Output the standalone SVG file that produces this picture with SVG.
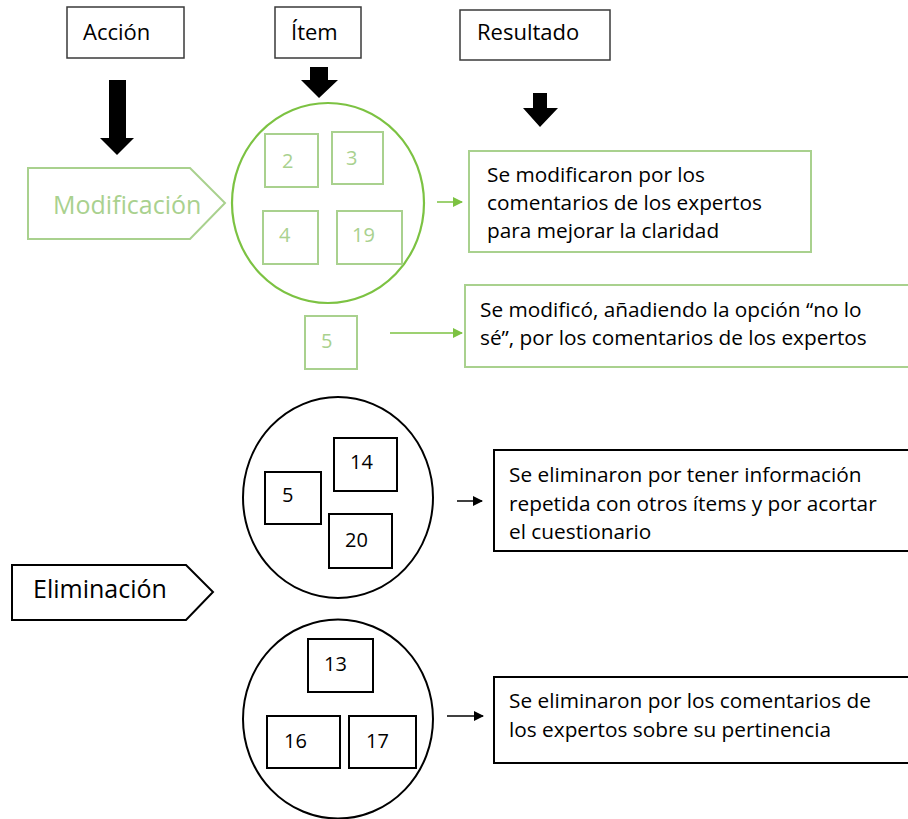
<svg xmlns="http://www.w3.org/2000/svg" width="908" height="819" viewBox="0 0 908 819">
<defs>
<style>
text{font-family:"Open Sans","Liberation Sans",sans-serif;fill:#000}
.hdr{fill:#fff;stroke:#3a3a3a;stroke-width:1.5}
.ht{font-size:22px}
.gbox{fill:#fff;stroke:#a9d18e;stroke-width:2}
.gt{font-size:20px;fill:#a9d18e}
.gcirc{fill:#fff;stroke:#7cc242;stroke-width:2.2}
.bcirc{fill:#fff;stroke:#000;stroke-width:2}
.bbox{fill:#fff;stroke:#000;stroke-width:2}
.bt{font-size:20px}
.rt{font-size:20.8px}
.blk{fill:#000}
.gl{stroke:#7cc242;stroke-width:1.5;fill:none}
.bl{stroke:#000;stroke-width:1.5;fill:none}
</style>
<marker id="ga" viewBox="0 0 10 10" refX="9" refY="5" markerWidth="10" markerHeight="10" markerUnits="userSpaceOnUse" orient="auto"><path d="M0,0L10,5L0,10z" fill="#7cc242"/></marker>
<marker id="ba" viewBox="0 0 10 10" refX="9" refY="5" markerWidth="10" markerHeight="10" markerUnits="userSpaceOnUse" orient="auto"><path d="M0,0L10,5L0,10z" fill="#000"/></marker>
</defs>
<rect width="908" height="819" fill="#fff"/>

<g id="accion"><rect class="hdr" x="67" y="7" width="117" height="51"/><text class="ht" x="83" y="40">Acción</text></g>
<g id="item"><rect class="hdr" x="275" y="7" width="86" height="51"/><text class="ht" x="291" y="40">Ítem</text></g>
<g id="resultado"><rect class="hdr" x="460" y="10" width="150" height="50"/><text class="ht" x="477" y="40">Resultado</text></g>

<g id="modificacion"><path d="M28,168H190L225,203L190,239H28Z" fill="#fff" stroke="#a9d18e" stroke-width="2"/><text x="53" y="214" font-size="25" style="fill:#a9d18e">Modificación</text></g>

<g id="mod-items">
<ellipse class="gcirc" cx="328" cy="203" rx="96" ry="100"/>
<rect class="gbox" x="265" y="134" width="53" height="53"/><text class="gt" x="282" y="168">2</text>
<rect class="gbox" x="332" y="132" width="51" height="52"/><text class="gt" x="346" y="165">3</text>
<rect class="gbox" x="263" y="211" width="55" height="53"/><text class="gt" x="279" y="242">4</text>
<rect class="gbox" x="337" y="211" width="65" height="53"/><text class="gt" x="352" y="242">19</text>
</g>
<g id="item5"><rect class="gbox" x="305" y="316" width="52" height="53"/><text class="gt" x="321" y="348">5</text></g>

<g id="res-mod1"><rect class="gbox" x="469" y="151" width="342" height="101"/>
<text class="rt" x="487" y="182">Se modificaron por los</text>
<text class="rt" x="487" y="210">comentarios de los expertos</text>
<text class="rt" x="487" y="238">para mejorar la claridad</text></g>
<g id="res-mod2"><rect class="gbox" x="465" y="285" width="460" height="82"/>
<text class="rt" x="480" y="317">Se modificó, añadiendo la opción “no lo</text>
<text class="rt" x="480" y="345">sé”, por los comentarios de los expertos</text></g>

<g id="eliminacion"><path d="M12,565H186L213,592L186,620H12Z" fill="#fff" stroke="#000" stroke-width="2"/><text x="33" y="598" font-size="25">Eliminación</text></g>

<g id="elim-items1">
<ellipse class="bcirc" cx="338" cy="497.5" rx="95" ry="100.5"/>
<rect class="bbox" x="265" y="472" width="56" height="52"/><text class="bt" x="282" y="502">5</text>
<rect class="bbox" x="334" y="438" width="63" height="53"/><text class="bt" x="350" y="469">14</text>
<rect class="bbox" x="329" y="514" width="63" height="54"/><text class="bt" x="345" y="547">20</text>
</g>
<g id="elim-items2">
<ellipse class="bcirc" cx="338" cy="719" rx="95" ry="99.5"/>
<rect class="bbox" x="308" y="639" width="65" height="53"/><text class="bt" x="324" y="671">13</text>
<rect class="bbox" x="267" y="716" width="73" height="52"/><text class="bt" x="284" y="748">16</text>
<rect class="bbox" x="349" y="716" width="67" height="52"/><text class="bt" x="366" y="748">17</text>
</g>

<g id="res-elim1"><rect class="bbox" x="494" y="450" width="430" height="101"/>
<text class="rt" x="509" y="482">Se eliminaron por tener información</text>
<text class="rt" x="509" y="511">repetida con otros ítems y por acortar</text>
<text class="rt" x="509" y="539">el cuestionario</text></g>
<g id="res-elim2"><rect class="bbox" x="494" y="677" width="430" height="86"/>
<text class="rt" x="509" y="708">Se eliminaron por los comentarios de</text>
<text class="rt" x="509" y="737">los expertos sobre su pertinencia</text></g>

<g id="connectors">
<path class="blk" d="M109,80H126V138H134L117,155L100,138H109Z"/>
<path class="blk" d="M310,67H328V80H338L319,98L301,80H310Z"/>
<path class="blk" d="M533,93H547V108H558L540,127L523,108H533Z"/>
<line class="gl" x1="437" y1="202" x2="462" y2="202" marker-end="url(#ga)"/>
<line class="gl" x1="390" y1="333" x2="462" y2="333" marker-end="url(#ga)"/>
<line class="bl" x1="457" y1="501" x2="482" y2="501" marker-end="url(#ba)"/>
<line class="bl" x1="447" y1="716" x2="483" y2="716" marker-end="url(#ba)"/>
</g>
</svg>
